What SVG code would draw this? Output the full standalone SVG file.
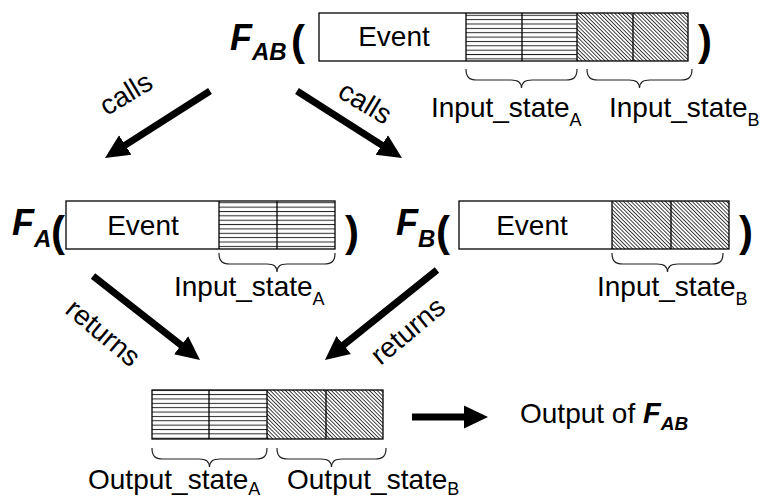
<svg xmlns="http://www.w3.org/2000/svg" width="763" height="497" viewBox="0 0 763 497">
  <style>
    .lbl { font-family: "Liberation Sans", Arial, sans-serif; font-size: 28px; fill: #000; }
    .sub { font-size: 18px; }
    .fn { font-family: "Liberation Sans", Arial, sans-serif; font-size: 36px; font-weight: bold; font-style: italic; fill: #000; }
    .fsub { font-size: 24px; }
    .fn-sm { font-weight: bold; font-style: italic; font-size: 29px; }
    .fsub-sm { font-weight: bold; font-style: italic; font-size: 19px; }
    .paren { font-family: "Liberation Sans", Arial, sans-serif; font-size: 42px; font-weight: bold; fill: #000; }
    .bg { fill: #fff; }
    .outline { fill: none; stroke: #000; stroke-width: 1.3; }
    .div { stroke: #000; stroke-width: 1.3; }
    .hh { fill: url(#hatch-h); }
    .hd { fill: url(#hatch-d); }
    .brace { fill: none; stroke: #222; stroke-width: 1.2; }
    .arrow { stroke: #000; stroke-width: 7; fill: none; marker-end: url(#head); }
  </style>
  <defs>
    <!-- horizontal rule fill -->
    <pattern id="hatch-h" patternUnits="userSpaceOnUse" width="8" height="4.36">
      <line x1="0" y1="2.2" x2="8" y2="2.2" stroke="#222" stroke-width="1"/>
    </pattern>
    <!-- back-slash diagonal fill -->
    <pattern id="hatch-d" patternUnits="userSpaceOnUse" width="2.7" height="6" patternTransform="rotate(-45)">
      <line x1="1.35" y1="0" x2="1.35" y2="6" stroke="#222" stroke-width="0.9"/>
    </pattern>
    <marker id="head" markerUnits="userSpaceOnUse" markerWidth="26" markerHeight="26" viewBox="0 -13 26 26" refX="1" refY="0" orient="auto">
      <path d="M0,-11.5 L24,0 L0,11.5 Z" fill="#000"/>
    </marker>
  </defs>

  <!-- F_AB( Event | state A | state B ) -->
  <g id="node-fab">
    <text class="fn" x="230" y="50">F<tspan class="fsub" dy="10">AB</tspan></text>
    <text class="paren" x="291" y="55">(</text>
    <rect class="bg" x="319" y="13" width="369" height="48"/>
    <rect class="hh" x="466" y="13" width="111" height="48"/>
    <rect class="hd" x="577" y="13" width="111" height="48"/>
    <rect class="outline" x="319" y="13" width="369" height="48"/>
    <line class="div" x1="466" y1="13" x2="466" y2="61"/>
    <line class="div" x1="522" y1="13" x2="522" y2="61"/>
    <line class="div" x1="577" y1="13" x2="577" y2="61"/>
    <line class="div" x1="633" y1="13" x2="633" y2="61"/>
    <text class="lbl" x="394" y="46" text-anchor="middle">Event</text>
    <path class="brace" d="M466,69 C466,77 469,80 477,80 H511 C518,80 521,82 521.5,88 C522,82 525,80 532,80 H566 C574,80 577,77 577,69"/>
    <path class="brace" d="M587,69 C587,77 590,80 598,80 H629 C636,80 639,82 639.5,88 C640,82 643,80 650,80 H681 C689,80 692,77 692,69"/>
    <text class="lbl" x="431" y="117">Input_state<tspan class="sub" dy="9">A</tspan></text>
    <text class="lbl" x="609" y="117">Input_state<tspan class="sub" dy="9">B</tspan></text>
    <text class="paren" x="698" y="55">)</text>
  </g>

  <!-- F_A( Event | state A ) -->
  <g id="node-fa">
    <text class="fn" x="12" y="235">F<tspan class="fsub" dy="12">A</tspan></text>
    <text class="paren" x="51" y="246">(</text>
    <rect class="bg" x="66" y="201" width="269" height="48"/>
    <rect class="hh" x="219" y="201" width="116" height="48"/>
    <rect class="outline" x="66" y="201" width="269" height="48"/>
    <line class="div" x1="219" y1="201" x2="219" y2="249"/>
    <line class="div" x1="277" y1="201" x2="277" y2="249"/>
    <text class="lbl" x="143" y="235" text-anchor="middle">Event</text>
    <path class="brace" d="M219,253 C219,261 222,264 230,264 H267 C274,264 276.5,266 277,272 C277.5,266 280,264 287,264 H324 C332,264 335,261 335,253"/>
    <text class="lbl" x="174" y="296">Input_state<tspan class="sub" dy="9">A</tspan></text>
    <text class="paren" x="345" y="246">)</text>
  </g>

  <!-- F_B( Event | state B ) -->
  <g id="node-fb">
    <text class="fn" x="396" y="235">F<tspan class="fsub" dy="12">B</tspan></text>
    <text class="paren" x="436" y="246">(</text>
    <rect class="bg" x="459" y="201" width="270" height="48"/>
    <rect class="hd" x="612" y="201" width="117" height="48"/>
    <rect class="outline" x="459" y="201" width="270" height="48"/>
    <line class="div" x1="612" y1="201" x2="612" y2="249"/>
    <line class="div" x1="671" y1="201" x2="671" y2="249"/>
    <text class="lbl" x="532" y="235" text-anchor="middle">Event</text>
    <path class="brace" d="M612,253 C612,261 615,264 623,264 H657 C664,264 667,266 667.5,272 C668,266 671,264 678,264 H712 C720,264 723,261 723,253"/>
    <text class="lbl" x="597" y="296">Input_state<tspan class="sub" dy="9">B</tspan></text>
    <text class="paren" x="739" y="246">)</text>
  </g>

  <!-- Combined output: state A | state B -->
  <g id="node-output">
    <rect class="bg" x="152" y="390" width="231" height="49"/>
    <rect class="hh" x="152" y="390" width="115" height="49"/>
    <rect class="hd" x="267" y="390" width="116" height="49"/>
    <rect class="outline" x="152" y="390" width="231" height="49"/>
    <line class="div" x1="209" y1="390" x2="209" y2="439"/>
    <line class="div" x1="267" y1="390" x2="267" y2="439"/>
    <line class="div" x1="326" y1="390" x2="326" y2="439"/>
    <path class="brace" d="M152,448 C152,456 155,459 163,459 H199 C206,459 209,461 209.5,467 C210,461 213,459 220,459 H256 C264,459 267,456 267,448"/>
    <path class="brace" d="M277,448 C277,456 280,459 288,459 H321 C328,459 331,461 331.5,467 C332,461 335,459 342,459 H375 C383,459 386,456 386,448"/>
    <text class="lbl" x="88" y="489">Output_state<tspan class="sub" dy="6">A</tspan></text>
    <text class="lbl" x="287" y="489">Output_state<tspan class="sub" dy="6">B</tspan></text>
  </g>

  <!-- Result caption -->
  <g id="node-result">
    <text class="lbl" x="520" y="423">Output of <tspan class="fn-sm">F</tspan><tspan class="fsub-sm" dy="7">AB</tspan></text>
  </g>

  <!-- Connectors -->
  <g id="connectors">
    <line class="arrow" x1="210" y1="91" x2="124.4" y2="145.6"/>
    <line class="arrow" x1="297" y1="91" x2="382.6" y2="145.6"/>
    <line class="arrow" x1="93" y1="276" x2="181.9" y2="345.8"/>
    <line class="arrow" x1="437" y1="270" x2="342.9" y2="345.6"/>
    <line class="arrow" x1="412" y1="417" x2="465" y2="417"/>
    <text class="lbl" transform="translate(126,94) rotate(-31)" text-anchor="middle" y="9">calls</text>
    <text class="lbl" transform="translate(365,103) rotate(31)" text-anchor="middle" y="9">calls</text>
    <text class="lbl" transform="translate(103,333) rotate(40)" text-anchor="middle" y="9">returns</text>
    <text class="lbl" transform="translate(408,331) rotate(-40)" text-anchor="middle" y="9">returns</text>
  </g>
</svg>
